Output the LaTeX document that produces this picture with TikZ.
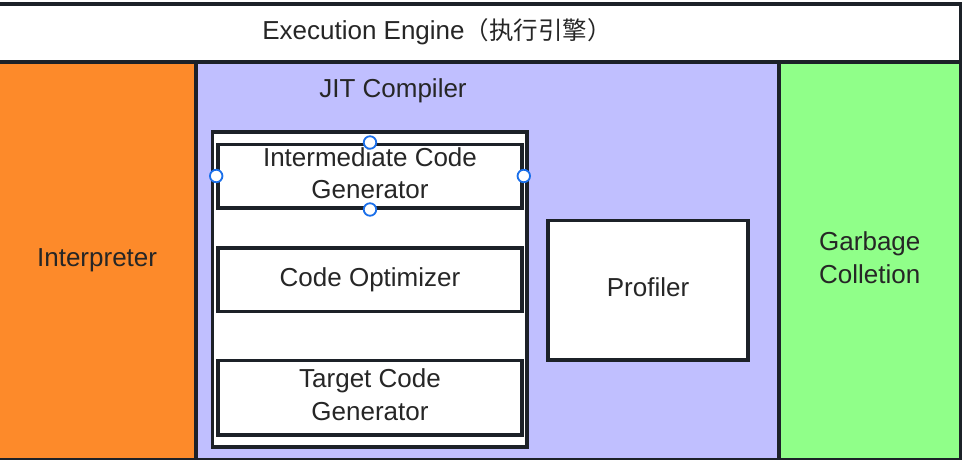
\documentclass[tikz,border=0pt]{standalone}
\usepackage{fontspec}
\setmainfont{Liberation Sans}
\newfontfamily\cjk{Noto Sans CJK SC}
\definecolor{edgegray}{HTML}{1C2128}
\definecolor{inkgray}{HTML}{262626}
\definecolor{interporange}{HTML}{FD8A2A}
\definecolor{jitpurple}{HTML}{C0BFFF}
\definecolor{gcgreen}{HTML}{90FF89}
\definecolor{handleblue}{HTML}{1A6FEA}
\tikzset{
  region/.style={draw=edgegray, line width=3.6pt, inner sep=0pt, text=inkgray, align=center},
  block/.style={draw=edgegray, fill=white, line width=3.6pt, inner sep=0pt, text=inkgray, align=center, minimum width=304pt},
  lifted/.style={text=inkgray, align=center, inner sep=0pt, yshift=3pt},
  handle/.style={circle, draw=handleblue, fill=white, line width=1.8pt, minimum size=12.5pt, inner sep=0pt},
}
\begin{document}
\begin{tikzpicture}[x=1pt, y=-1pt, font=\fontsize{26}{32.5}\selectfont]
        \useasboundingbox[fill=white] (0,0) rectangle (962,460);
        % Execution engine header
        \node (engine) [region, fill=white, minimum width=962.8pt, minimum height=58pt] at (479.4,32.8) {};
        \node (enginetitle) [text=inkgray] at (437,31.5) {Execution Engine{\cjk\fontsize{24.5}{30}\selectfont（执行引擎）}};
        % Interpreter column
        \node (interp) [region, fill=interporange, minimum width=198.2pt, minimum height=397.7pt] at (97.1,260.65) {Interpreter};
        % JIT compiler column
        \node (jit) [region, fill=jitpurple, minimum width=582.6pt, minimum height=397.7pt] at (487.5,260.65) {};
        \node (jittitle) [text=inkgray] at (393,90.5) {JIT Compiler};
        % Garbage collection column
        \node (gc) [region, fill=gcgreen, minimum width=182pt, minimum height=397.7pt,
          label={[lifted]center:Garbage\\Colletion}] at (869.8,260.65) {};
        % Code generation stages
        \node (stages) [block, minimum width=314.7pt, minimum height=315.2pt] at (369.9,289.6) {};
        \node (icg) [block, minimum height=63.4pt, label={[lifted]center:Intermediate Code\\Generator}] at (370,176) {};
        \node (opt) [block, minimum height=63.7pt] at (370,279.8) {Code Optimizer};
        \node (tcg) [block, minimum height=74.7pt, label={[lifted]center:Target Code\\Generator}] at (370,397.7) {};
        % Profiler
        \node (prof) [block, minimum width=200pt, minimum height=139.7pt, label={[lifted]center:Profiler}] at (648,290.2) {};
        % Selection handles
        \foreach \side in {north,west,east,south}
          \node[handle] at (icg.\side) {};
    \end{tikzpicture}
\end{document}
